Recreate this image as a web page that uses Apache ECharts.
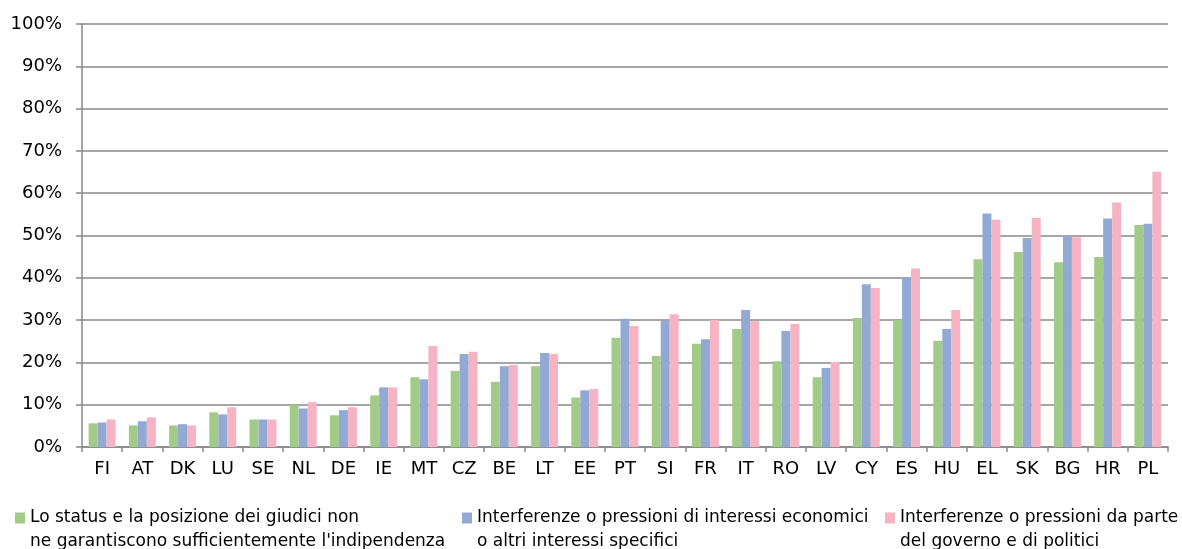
<!DOCTYPE html>
<html>
<head>
<meta charset="utf-8">
<script src="https://cdn.jsdelivr.net/npm/echarts@6/dist/echarts.min.js"></script>
<style>html,body{margin:0;padding:0;background:#fff}#c{width:1182px;height:549px}</style>
</head>
<body>
<div id="c"></div>
<script>
const categories = ['FI','AT','DK','LU','SE','NL','DE','IE','MT','CZ','BE','LT','EE','PT','SI','FR','IT','RO','LV','CY','ES','HU','EL','SK','BG','HR','PL'];
const seriesNames = [
  "Lo status e la posizione dei giudici non\nne garantiscono sufficientemente l'indipendenza",
  "Interferenze o pressioni di interessi economici\no altri interessi specifici",
  "Interferenze o pressioni da parte\ndel governo e di politici"
];
const statusValues   = [5.6,5.1,5.1,8.2,6.5,9.9,7.5,12.2,16.5,18.0,15.4,19.1,11.7,25.8,21.5,24.4,27.9,20.3,16.5,30.5,30.0,25.1,44.4,46.1,43.7,44.9,52.5];
const economicValues = [5.8,6.1,5.4,7.7,6.5,9.1,8.7,14.1,16.0,22.0,19.1,22.2,13.4,30.3,29.8,25.5,32.4,27.4,18.7,38.5,40.0,27.9,55.2,49.4,50.1,54.0,52.8];
const politicalValues= [6.5,7.0,5.1,9.4,6.5,10.6,9.4,14.1,23.9,22.5,19.4,22.0,13.7,28.6,31.4,30.0,29.8,29.1,20.1,37.6,42.2,32.4,53.7,54.2,49.6,57.8,65.1];
const colors = ['#A3CB88','#92A9D4','#F5B3C4'];

const chart = echarts.init(document.getElementById('c'));
const axisFont = "'DejaVu Sans'";
const legendFont = "'DejaVu Sans'";
function legend(idx, left) {
  return {
    data: [seriesNames[idx]],
    left: left, top: 482,
    padding: 0,
    orient: 'vertical',
    itemWidth: 10, itemHeight: 11,
    icon: 'rect',
    selectedMode: false,
    formatter: name => ' \n' + name,
    textStyle: { fontFamily: legendFont, fontSize: 17, color: '#000', lineHeight: 24 }
  };
}
chart.setOption({
  animation: false,
  color: colors,
  grid: { left: 82, right: 14, top: 24, bottom: 102 },
  legend: [legend(0, 15), legend(1, 462), legend(2, 885)],
  xAxis: {
    type: 'category',
    data: categories,
    axisLine: { lineStyle: { color: '#888', width: 1.5 } },
    axisTick: { show: true, length: 5, lineStyle: { color: '#888', width: 1.5 } },
    axisLabel: { fontFamily: axisFont, fontSize: 18, color: '#000', margin: 13 }
  },
  yAxis: {
    type: 'value', min: 0, max: 100, interval: 10,
    axisLine: { show: true, lineStyle: { color: '#888', width: 1.5 } },
    axisTick: { show: true, length: 6, lineStyle: { color: '#888', width: 1.5 } },
    splitLine: { lineStyle: { color: '#888', width: 1.5 } },
    axisLabel: { fontFamily: axisFont, fontSize: 18, color: '#000', margin: 20, formatter: '{value}%' }
  },
  series: [
    { name: seriesNames[0], type: 'bar', data: statusValues, barGap: '0%', barCategoryGap: '33%' },
    { name: seriesNames[1], type: 'bar', data: economicValues, barGap: '0%', barCategoryGap: '33%' },
    { name: seriesNames[2], type: 'bar', data: politicalValues, barGap: '0%', barCategoryGap: '33%' }
  ]
});
</script>
</body>
</html>
